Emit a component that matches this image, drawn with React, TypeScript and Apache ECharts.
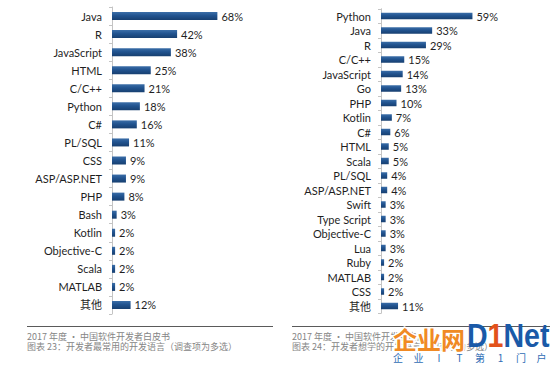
import React, { useEffect, useRef } from "react";
import * as echarts from "echarts";

const leftCategories = ["Java", "R", "JavaScript", "HTML", "C/C++", "Python", "C#", "PL/SQL", "CSS", "ASP/ASP.NET", "PHP", "Bash", "Kotlin", "Objective-C", "Scala", "MATLAB", "其他"];
const leftValues = [68, 42, 38, 25, 21, 18, 16, 11, 9, 9, 8, 3, 2, 2, 2, 2, 12];

const rightCategories = ["Python", "Java", "R", "C/C++", "JavaScript", "Go", "PHP", "Kotlin", "C#", "HTML", "Scala", "PL/SQL", "ASP/ASP.NET", "Swift", "Type Script", "Objective-C", "Lua", "Ruby", "MATLAB", "CSS", "其他"];
const rightValues = [59, 33, 29, 15, 14, 13, 10, 7, 6, 5, 5, 4, 4, 3, 3, 3, 3, 2, 2, 2, 11];

const leftCaption = ["2017 年度 · 中国软件开发者白皮书", "图表 23：开发者最常用的开发语言（调查项为多选）"];
const rightCaption = ["2017 年度 · 中国软件开发者白皮书", "图表 24：开发者想学的开发语言（调查项为多选）"];
const watermarkChars = ["企", "业", "I", "T", "第", "1", "门", "户"];

const FONT = "Lato, 'Noto Sans CJK SC', sans-serif";
const CJK = "'Noto Sans CJK SC', sans-serif";

const barColor = new echarts.graphic.LinearGradient(0, 0, 0, 1, [
  { offset: 0, color: "#3b6ea8" },
  { offset: 0.45, color: "#21538f" },
  { offset: 1, color: "#173f70" },
]);

function yAxis(gridIndex: number, data: string[]) {
  return {
    type: "category",
    gridIndex,
    data,
    inverse: true,
    axisLine: { show: true, lineStyle: { color: "#c4c4c4", width: 1 } },
    axisTick: { show: true, length: 3, lineStyle: { color: "#c4c4c4" } },
    axisLabel: { color: "#1f1f1f", fontSize: 11, fontFamily: FONT, margin: 10 },
  };
}

function barSeries(idx: number, data: number[], width: number) {
  return {
    type: "bar",
    xAxisIndex: idx,
    yAxisIndex: idx,
    data,
    barWidth: width,
    itemStyle: { color: barColor },
    label: {
      show: true,
      position: "right",
      distance: 4,
      formatter: "{c}%",
      color: "#1f1f1f",
      fontSize: 11,
      fontFamily: FONT,
    },
  };
}

export default function App() {
  const ref = useRef<HTMLDivElement>(null);
  useEffect(() => {
    document.body.style.margin = "0";
    const chart = echarts.init(ref.current!, null, { renderer: "svg" });
    const graphics: any[] = [];
    graphics.push({ type: "line", shape: { x1: 27, y1: 326.5, x2: 273, y2: 326.5 }, style: { stroke: "#5a5a5a", lineWidth: 1 } });
    graphics.push({ type: "line", shape: { x1: 292, y1: 326.5, x2: 550, y2: 326.5 }, style: { stroke: "#5a5a5a", lineWidth: 1 } });
    leftCaption.forEach((t, i) => {
      graphics.push({ type: "text", x: 27, y: 336 + i * 10.5, style: { text: t, fill: "#858585", fontSize: 9, fontFamily: CJK, verticalAlign: "middle" } });
    });
    rightCaption.forEach((t, i) => {
      graphics.push({ type: "text", x: 292, y: 336 + i * 10.5, style: { text: t, fill: "#858585", fontSize: 9, fontFamily: CJK, verticalAlign: "middle" } });
    });
    graphics.push({
      type: "text",
      x: 393,
      y: 338,
      style: { text: "企业网", fill: "#f08a24", stroke: "#ffffff", lineWidth: 3, fontSize: 24, fontWeight: "bold", fontFamily: CJK, verticalAlign: "middle" },
    });
    graphics.push({
      type: "text",
      x: 467,
      y: 336,
      scaleX: 0.84,
      style: {
        text: "{a|D}{b|1}{a|Net}",
        verticalAlign: "middle",
        rich: {
          a: { fill: "#1a5aa8", fontSize: 34, fontWeight: "bold", fontFamily: "'Liberation Sans', Arial, sans-serif" },
          b: { fill: "#e2521b", fontSize: 34, fontWeight: "bold", fontFamily: "'Liberation Sans', Arial, sans-serif" },
        },
      },
    });
    watermarkChars.forEach((c, i) => {
      graphics.push({
        type: "text",
        x: 398 + i * 20.5,
        y: 357.5,
        style: { text: c, fill: "#2f6db5", fontSize: 10, fontFamily: CJK, align: "center", verticalAlign: "middle" },
      });
    });

    chart.setOption({
      animation: false,
      backgroundColor: "#ffffff",
      grid: [
        { left: 112, top: 7, width: 155, height: 307 },
        { left: 381, top: 8.75, width: 155, height: 304.5 },
      ],
      xAxis: [
        { type: "value", gridIndex: 0, min: 0, max: 100, show: false },
        { type: "value", gridIndex: 1, min: 0, max: 100, show: false },
      ],
      yAxis: [yAxis(0, leftCategories), yAxis(1, rightCategories)],
      series: [barSeries(0, leftValues, 8), barSeries(1, rightValues, 6.5)],
      graphic: graphics,
    } as any);
    return () => chart.dispose();
  }, []);
  return <div ref={ref} style={{ width: 550, height: 365, position: "absolute", left: 0, top: 0 }} />;
}
